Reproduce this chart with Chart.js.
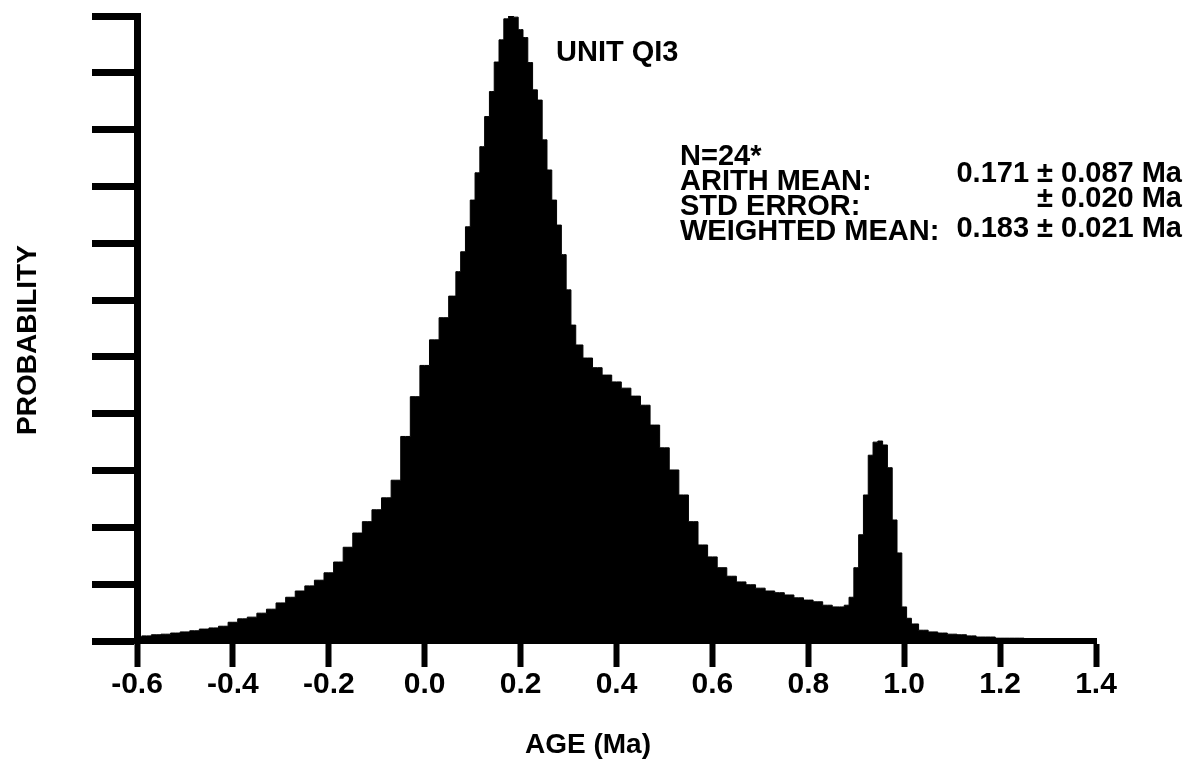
<!DOCTYPE html>
<html>
<head>
<meta charset="utf-8">
<title>Unit QI3 age probability</title>
<script src="https://cdn.jsdelivr.net/npm/chart.js@4.4.1/dist/chart.umd.min.js"></script>
<style>
  html, body { margin: 0; padding: 0; background: #fff; }
  #wrap { width: 1186px; height: 769px; position: relative; }
</style>
</head>
<body>
<div id="wrap"><canvas id="chart" width="1186" height="769"></canvas></div>
<script>
// ages (Ma) and probability
const ages = [
  -0.60, -0.58, -0.56, -0.54, -0.52, -0.50, -0.48, -0.46, -0.44, -0.42,
  -0.40, -0.38, -0.36, -0.34, -0.32, -0.30, -0.28, -0.26, -0.24, -0.22,
  -0.20, -0.18, -0.16, -0.14, -0.12, -0.10, -0.08, -0.06, -0.04, -0.02,
   0.00,  0.02,  0.04,
   0.06,  0.07,  0.08,  0.09,  0.10,  0.11,  0.12,  0.13,  0.14,  0.15,
   0.16,  0.17,  0.18,  0.19,  0.20,  0.21,  0.22,  0.23,  0.24,  0.25,
   0.26,  0.27,  0.28,  0.29,  0.30,  0.31,  0.32,
   0.34,  0.36,  0.38,  0.40,  0.42,  0.44,  0.46,  0.48,  0.50,  0.52,
   0.54,  0.56,  0.58,  0.60,  0.62,  0.64,  0.66,  0.68,  0.70,  0.72,
   0.74,  0.76,  0.78,  0.80,  0.82,  0.84,
   0.86,  0.87,  0.88,  0.89,  0.90,  0.91,  0.92,  0.93,  0.94,  0.95,
   0.96,  0.97,  0.98,  0.99,  1.00,  1.01,  1.02,
   1.04,  1.06,  1.08,  1.10,  1.12,  1.14,  1.16,  1.18,  1.20,  1.22,
   1.24,  1.26,  1.28,  1.30,  1.32,  1.34,  1.36,  1.38,  1.40
];
const probability = [
  0.07, 0.09, 0.11, 0.12, 0.14, 0.16, 0.18, 0.21, 0.23, 0.26,
  0.33, 0.39, 0.42, 0.49, 0.56, 0.67, 0.77, 0.88, 0.97, 1.07,
  1.20, 1.39, 1.65, 1.90, 2.10, 2.31, 2.52, 2.83, 3.60, 4.30,
  4.85, 5.30, 5.69,
  6.07, 6.50, 6.85, 7.29, 7.76, 8.24, 8.70, 9.23, 9.67, 10.19,
  10.58, 10.95, 11.0, 10.98, 10.76, 10.62, 10.18, 9.70, 9.52, 8.82,
  8.29, 7.76, 7.32, 6.80, 6.18, 5.56, 5.21,
  4.98, 4.81, 4.68, 4.56, 4.45, 4.31, 4.15, 3.80, 3.40, 3.01,
  2.57, 2.10, 1.69, 1.48, 1.29, 1.14, 1.04, 0.99, 0.93, 0.88,
  0.85, 0.81, 0.76, 0.72, 0.69, 0.63,
  0.60, 0.60, 0.63, 0.77, 1.29, 1.87, 2.57, 3.27, 3.50, 3.52,
  3.45, 3.05, 2.13, 1.55, 0.60, 0.40, 0.30,
  0.19, 0.16, 0.14, 0.12, 0.11, 0.09, 0.07, 0.07, 0.05, 0.05,
  0.05, 0.04, 0.04, 0.04, 0.04, 0.03, 0.03, 0.03, 0.03
];
const ageTicks = [-0.6, -0.4, -0.2, 0.0, 0.2, 0.4, 0.6, 0.8, 1.0, 1.2, 1.4];
const ageTickLabels = ["-0.6", "-0.4", "-0.2", "0.0", "0.2", "0.4", "0.6", "0.8", "1.0", "1.2", "1.4"];
const probTicks = [0, 1, 2, 3, 4, 5, 6, 7, 8, 9, 10, 11];

const xTitle = "AGE (Ma)";
const yTitle = "PROBABILITY";
const unitLabel = "UNIT QI3";
const statLabels = ["N=24*", "ARITH MEAN:", "STD ERROR:", "WEIGHTED MEAN:"];
const statValues = ["0.171 \u00b1 0.087 Ma", "\u00b1 0.020 Ma", "0.183 \u00b1 0.021 Ma"];

const FONT = "'Liberation Sans', Arial, Helvetica, sans-serif";

// axis titles and the text block in the upper right
const notes = {
  id: "notes",
  afterDraw(chart) {
    const ctx = chart.ctx;
    ctx.save();
    ctx.fillStyle = "#000";
    ctx.textBaseline = "middle";

    ctx.font = "bold 28px " + FONT;
    ctx.textAlign = "center";
    ctx.fillText(xTitle, 588, 745);
    ctx.save();
    ctx.translate(28, 340);
    ctx.rotate(-Math.PI / 2);
    ctx.fillText(yTitle, 0, 0);
    ctx.restore();

    ctx.textAlign = "left";
    ctx.font = "bold 29px " + FONT;
    ctx.fillText(unitLabel, 556, 53);

    ctx.font = "bold 29px " + FONT;
    const labelY = [157, 182, 207, 232];
    statLabels.forEach((t, i) => ctx.fillText(t, 680, labelY[i]));
    ctx.textAlign = "right";
    const valueY = [174, 199, 229];
    statValues.forEach((t, i) => ctx.fillText(t, 1182, valueY[i]));
    ctx.restore();
  }
};

new Chart(document.getElementById("chart"), {
  type: "line",
  data: {
    datasets: [{
      data: ages.map((a, i) => ({ x: a, y: probability[i] })),
      stepped: "middle",
      fill: "origin",
      backgroundColor: "#000",
      borderColor: "#000",
      borderWidth: 1,
      pointRadius: 0
    }]
  },
  options: {
    responsive: false,
    animation: false,
    layout: { padding: { left: 92, right: 90, top: 16, bottom: 66 } },
    plugins: { legend: { display: false }, tooltip: { enabled: false } },
    scales: {
      x: {
        type: "linear",
        min: -0.6,
        max: 1.4,
        afterBuildTicks: s => { s.ticks = ageTicks.map(v => ({ value: v })); },
        ticks: {
          callback: (v, i) => ageTickLabels[i],
          color: "#000",
          font: { family: FONT, size: 30, weight: "bold" },
          padding: 0,
          maxRotation: 0,
          autoSkip: false
        },
        grid: { drawOnChartArea: false, drawTicks: true, tickLength: 26, tickWidth: 6, tickColor: "#000" },
        border: { display: true, width: 6, color: "#000" }
      },
      y: {
        min: 0,
        max: 11,
        afterBuildTicks: s => { s.ticks = probTicks.map(v => ({ value: v })); },
        ticks: { display: false },
        grid: { drawOnChartArea: false, drawTicks: true, tickLength: 45, tickWidth: 7, tickColor: "#000" },
        border: { display: true, width: 7, color: "#000" }
      }
    }
  },
  plugins: [notes]
});
</script>
</body>
</html>
